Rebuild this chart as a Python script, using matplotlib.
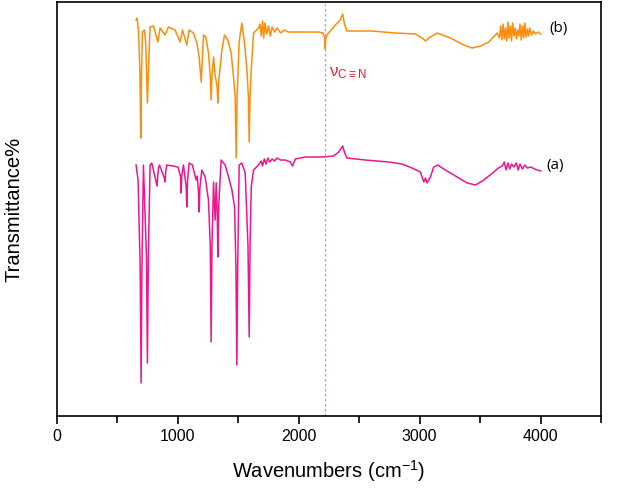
import matplotlib
matplotlib.use('Agg')
import matplotlib.pyplot as plt
from matplotlib.ticker import MultipleLocator

plt.rcParams['font.family'] = ['Liberation Sans', 'DejaVu Sans']
plt.rcParams['mathtext.fontset'] = 'custom'
plt.rcParams['mathtext.rm'] = 'Liberation Sans'

# spectrum (a), pink
wn_a = [654, 671, 688, 696, 703, 715, 740, 748, 756, 770, 784, 828, 834, 840, 848,
        888, 894, 900, 908, 960, 1000, 1022, 1027, 1032, 1046, 1068, 1074, 1080, 1093,
        1120, 1151, 1160, 1170, 1176, 1182, 1198, 1226, 1253, 1268, 1275, 1282, 1295,
        1308, 1317, 1326, 1331, 1338, 1358, 1391, 1419, 1447, 1469, 1480, 1488, 1495,
        1507, 1529, 1557, 1580, 1590, 1597, 1607, 1626, 1667, 1690, 1700, 1715, 1730,
        1745, 1760, 1780, 1800, 1820, 1850, 1888, 1930, 1949, 1971, 2054, 2192, 2288,
        2330, 2363, 2380, 2399, 2551, 2744, 2854, 2937, 3006, 3034, 3048, 3061, 3089,
        3116, 3150, 3199, 3310, 3393, 3462, 3531, 3613, 3650, 3683, 3700, 3715, 3730,
        3745, 3760, 3779, 3800, 3815, 3830, 3850, 3870, 3890, 3920, 3950, 3975, 4000]
t_a = [251, 236, 150, 33, 150, 251, 160, 53, 160, 251, 253, 230, 241, 248, 251,
       238, 234, 245, 251, 250, 249, 240, 223, 240, 251, 230, 209, 235, 253,
       251, 236, 240, 225, 204, 228, 246, 239, 216, 170, 74, 170, 234,
       196, 233, 200, 159, 210, 256, 251, 239, 226, 209, 150, 51, 150,
       251, 253, 243, 170, 79, 170, 229, 246, 251, 255, 250, 257, 252,
       258, 254, 257, 255, 258, 256, 256, 254, 250, 257, 259, 259, 260,
       264, 270, 263, 258, 256, 254, 252, 248, 244, 234, 238, 233, 239,
       249, 251, 247, 239, 233, 231, 236, 244, 248, 250, 254, 246, 253,
       247, 252, 249, 253, 246, 252, 247, 251, 248, 249, 247, 246, 245]

# spectrum (b), orange
wn_b = [654, 662, 674, 687, 693, 699, 707, 723, 734, 742, 748, 756, 770, 798, 834,
        853, 894, 922, 977, 1019, 1038, 1074, 1093, 1129, 1157, 1176, 1193, 1212,
        1231, 1253, 1268, 1275, 1282, 1295, 1308, 1324, 1331, 1338, 1364, 1386, 1413,
        1441, 1460, 1474, 1482, 1490, 1507, 1529, 1551, 1571, 1583, 1590, 1597, 1607,
        1626, 1667, 1680, 1690, 1700, 1710, 1720, 1735, 1750, 1765, 1780, 1800, 1820,
        1850, 1880, 1913, 1943, 2054, 2164, 2200, 2214, 2219, 2224, 2233, 2261, 2302,
        2343, 2363, 2380, 2399, 2606, 2799, 2965, 3020, 3048, 3075, 3102, 3144, 3254,
        3365, 3434, 3503, 3572, 3641, 3660, 3670, 3680, 3690, 3700, 3710, 3720, 3730,
        3740, 3750, 3760, 3770, 3780, 3790, 3800, 3810, 3820, 3830, 3840, 3850, 3860,
        3870, 3880, 3890, 3900, 3910, 3925, 3940, 3960, 3980, 4000]
t_b = [396, 398, 386, 340, 278, 340, 384, 386, 373, 340, 313, 344, 389, 390, 374,
       388, 381, 389, 386, 374, 386, 371, 386, 383, 373, 359, 334, 381,
       379, 363, 340, 316, 340, 359, 341, 330, 313, 335, 366, 381, 376,
       363, 339, 320, 258, 320, 374, 393, 373, 346, 320, 274, 320, 346,
       383, 388, 392, 380, 395, 378, 393, 382, 390, 380, 389, 384, 388,
       383, 386, 384, 384, 384, 384, 383, 378, 367, 378, 381, 385, 391,
       396, 402, 391, 385, 385, 383, 382, 378, 375, 378, 380, 383, 378,
       371, 368, 370, 374, 383, 378, 390, 376, 392, 377, 388, 375, 394,
       378, 390, 375, 393, 380, 388, 377, 386, 380, 392, 376, 390, 378,
       393, 379, 387, 380, 388, 381, 385, 382, 384, 382]

cn_band = 2219

fig = plt.figure(figsize=(6.18, 4.91), dpi=100)
ax = fig.add_axes([0.0922, 0.1527, 0.8803, 0.8432])

ax.plot(wn_a, t_a, color='#F0158C', lw=1.1)
ax.plot(wn_b, t_b, color='#FF8C0A', lw=1.1)
ax.axvline(cn_band, color='#A29CF2', lw=0.9, ls=(0, (2, 2)))

ax.text(4124, 251, '(a)', fontsize=11, ha='center', va='center', family=['Open Sans', 'DejaVu Sans'])
ax.text(4149, 388, '(b)', fontsize=11, ha='center', va='center', family=['Open Sans', 'DejaVu Sans'])
ax.text(2250, 335, r'$\mathregular{\nu_{C\equiv N}}$', color='#E8212B', fontsize=12,
        ha='left', va='bottom')

ax.set_xlim(0, 4500)
ax.set_ylim(0, 414)
ax.xaxis.set_major_locator(MultipleLocator(1000))
ax.xaxis.set_minor_locator(MultipleLocator(500))
ax.tick_params(axis='x', which='major', direction='out', length=6, width=1.2, labelsize=11.5)
ax.tick_params(axis='x', which='minor', direction='out', length=5, width=1.2)
ax.set_yticks([])
for s in ax.spines.values():
    s.set_linewidth(1.2)

ax.set_xlabel('Wavenumbers (cm$^{\\mathregular{-1}}$)', fontsize=14.5, labelpad=10)
ax.set_ylabel('Transmittance%', fontsize=14.5, labelpad=24)

fig.savefig('out.png', dpi=100)
